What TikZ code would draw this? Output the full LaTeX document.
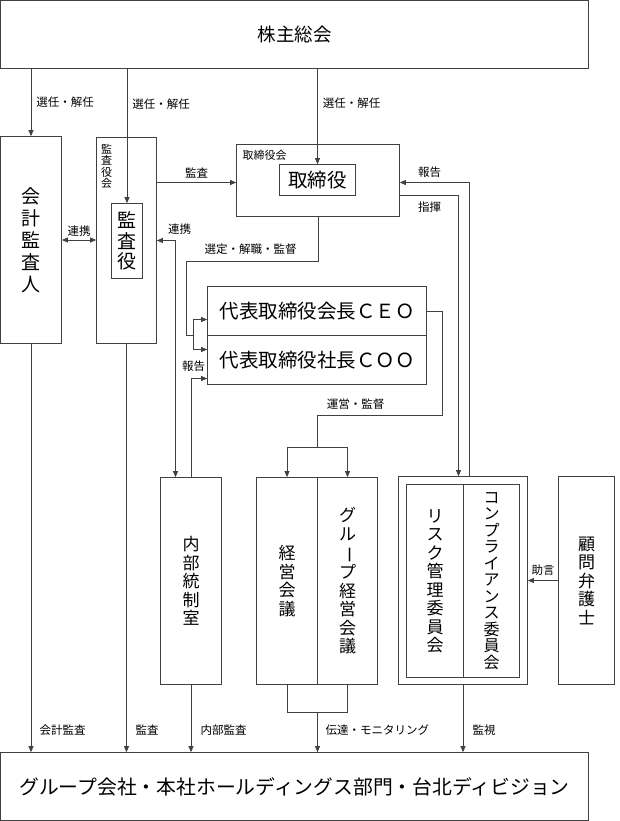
\documentclass[tikz,border=0pt]{standalone}
\usepackage{fontspec}
\setmainfont{Noto Sans CJK JP}
\usepackage{tikz}
\usetikzlibrary{positioning}
\usetikzlibrary{arrows.meta}

\newcommand{\tatebar}{\rotatebox[origin=c]{-90}{ー}}

\begin{document}
\begin{tikzpicture}[x=1pt,y=-1pt,
	>={Triangle[length=6pt,width=5pt]},
	box/.style={draw=black!75, line width=0.7pt, rectangle, inner sep=0pt, align=center},
	ln/.style={draw=black!75, line width=0.7pt},
	lbl/.style={font=\fontsize{11.5}{13}\selectfont, inner sep=1pt},
	tate/.style={font=\fontsize{17}{18.5}\selectfont}]
	\useasboundingbox (-0.5,-0.5) rectangle (618.5,820.5);
	% Shareholders %
	\node (soukai) [box, minimum width=588pt, minimum height=68pt, font=\fontsize{18.5}{20}\selectfont] at (294,34) {株主総会};
	% Auditors %
	\node (kaikei) [box, minimum width=61pt, minimum height=207pt, font=\fontsize{19}{22}\selectfont] at (30.5,239.5) {会\\計\\監\\査\\人};
	\node (kansayakukai) [box, minimum width=60pt, minimum height=206pt] at (126,240) {};
	\node (kansakailbl) [font=\fontsize{11}{11.5}\selectfont, align=center, inner sep=0pt] at (106,166) {監\\査\\役\\会};
	\node (kansayaku) [box, minimum width=31pt, minimum height=75pt, font=\fontsize{19}{20.5}\selectfont] at (126.5,240.5) {監\\査\\役};
	% Board %
	\node (torikai) [box, minimum width=163pt, minimum height=72pt] at (317.5,180) {};
	\node (torikailbl) [font=\fontsize{11}{13}\selectfont, inner sep=0pt] at (264,155) {取締役会};
	\node (torishimari) [box, minimum width=76pt, minimum height=31pt, font=\fontsize{19.5}{21}\selectfont] at (317,179.5) {取締役};
	% Executives %
	\node (ceo) [box, minimum width=219pt, minimum height=49pt, font=\fontsize{19.5}{21}\selectfont] at (316.5,310.5) {代表取締役会長ＣＥＯ};
	\node (coo) [box, minimum width=219pt, minimum height=49pt, font=\fontsize{19.5}{21}\selectfont] at (316.5,359.5) {代表取締役社長ＣＯＯ};
	% Lower Row %
	\node (naibu) [box, tate, minimum width=61pt, minimum height=207pt] at (190.5,580.5) {内\\部\\統\\制\\室};
	\node (keiei) [box, tate, minimum width=61pt, minimum height=207pt] at (286.5,580.5) {経\\営\\会\\議};
	\node (group) [box, tate, minimum width=60pt, minimum height=207pt] at (347,580.5) {グ\\ル\\\tatebar\\プ\\経\\営\\会\\議};
	\node (compout) [box, minimum width=129pt, minimum height=208pt] at (462.5,580) {};
	\node (risk) [box, tate, minimum width=57pt, minimum height=193pt] at (434.5,580.5) {リ\\ス\\ク\\管\\理\\委\\員\\会};
	\node (compliance) [box, minimum width=56pt, minimum height=193pt, font=\fontsize{16}{16.5}\selectfont] at (491,580.5) {コ\\ン\\プ\\ラ\\イ\\ア\\ン\\ス\\委\\員\\会};
	\node (komon) [box, tate, minimum width=56pt, minimum height=208pt] at (586,580) {顧\\問\\弁\\護\\士};
	% Group Companies %
	\node (bottom) [box, minimum width=588pt, minimum height=68pt, font=\fontsize{19.8}{21}\selectfont] at (294,786) {グループ会社・本社ホールディングス部門・台北ディビジョン};
	% Election %
	\draw [ln,->] (soukai.south -| kaikei) -- node [lbl, right=4pt] {選任・解任} (kaikei.north);
	\draw [ln,->] (soukai.south -| kansayaku) -- node [lbl, right=4pt, pos=0.26] {選任・解任} (kansayaku.north);
	\draw [ln,->] (soukai.south -| torishimari) -- node [lbl, right=4pt, pos=0.365] {選任・解任} (torishimari.north);
	% Audit and Cooperation %
	\draw [ln,->] (kansayakukai.east |- 0,182) -- node [lbl, above=3pt] {監査} (torikai.west |- 0,182);
	\draw [ln,<->] (kaikei.east) -- node [lbl, above=2pt] {連携} (kaikei.east -| kansayakukai.west);
	\draw [ln,<->] (kansayakukai.east) -| (naibu.north -| 175,0);
	\node (renkei) [lbl] at (179,229) {連携};
	\draw [ln,->] (naibu.north) |- (coo.west |- 0,378);
	\node (houkokuA) [lbl] at (193,366) {報告};
	% Appointment %
	\coordinate (forkA) at (193,335);
	\draw [ln] (torikai.south) |- (186,261) |- (forkA);
	\draw [ln,->] (forkA) |- (ceo.west |- 0,319);
	\draw [ln,->] (forkA) |- (coo.west |- 0,349);
	\node (sentei) [lbl] at (250,249) {選定・解職・監督};
	% Operation %
	\coordinate (forkB) at (317,447);
	\draw [ln] (ceo.east) -| (442,415) -| (forkB);
	\draw [ln,->] (forkB) -| (keiei.north);
	\draw [ln,->] (forkB) -| (group.north);
	\node (unei) [lbl] at (355,404) {運営・監督};
	% Compliance Lines %
	\draw [ln,->] (compout.north -| 469,0) |- (torikai.east |- 0,182);
	\draw [ln,->] (torikai.east |- 0,195) -| (compout.north -| 458,0);
	\node (houkokuB) [lbl] at (429,172) {報告};
	\node (shiki) [lbl] at (429,207) {指揮};
	\draw [ln,->] (komon.west) -- node [lbl, above=4pt] {助言} (compout.east);
	% To Group Companies %
	\coordinate (forkC) at (317,712);
	\draw [ln] (keiei.south) |- (forkC) -| (group.south);
	\draw [ln,->] (kaikei.south) -- (kaikei.south |- bottom.north);
	\draw [ln,->] (kansayakukai.south) -- (kansayakukai.south |- bottom.north);
	\draw [ln,->] (naibu.south) -- (naibu.south |- bottom.north);
	\draw [ln,->] (forkC) -- (forkC |- bottom.north);
	\draw [ln,->] (compout.south) -- (compout.south |- bottom.north);
	\node (kaikeikansa) [lbl, anchor=west] at (38,730) {会計監査};
	\node (kansa) [lbl, anchor=west] at (134,730) {監査};
	\node (naibukansa) [lbl, anchor=west] at (199,730) {内部監査};
	\node (dentatsu) [lbl, anchor=west] at (324,730) {伝達・モニタリング};
	\node (kanshi) [lbl, anchor=west] at (471,730) {監視};

\end{tikzpicture}
\end{document}
